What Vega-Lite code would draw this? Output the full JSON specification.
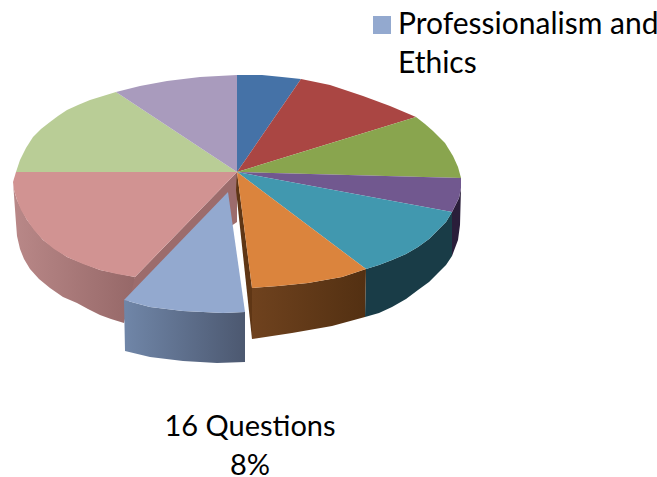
{
  "$schema": "https://vega.github.io/schema/vega-lite/v6.json",
  "width": 657,
  "height": 477,
  "padding": 0,
  "autosize": {"type": "none"},
  "background": "#ffffff",
  "config": {"view": {"stroke": null}},
  "datasets": {
    "outline": [
      {"s":"Topic 1","part":"top","i":0,"x":237,"y":172},{"s":"Topic 1","part":"top","i":1,"x":237,"y":75},{"s":"Topic 1","part":"top","i":2,"x":262,"y":75},{"s":"Topic 1","part":"top","i":3,"x":282,"y":77},{"s":"Topic 1","part":"top","i":4,"x":301,"y":79},
      {"s":"Topic 2","part":"top","i":0,"x":237,"y":172},{"s":"Topic 2","part":"top","i":1,"x":301,"y":79},{"s":"Topic 2","part":"top","i":2,"x":330,"y":85},{"s":"Topic 2","part":"top","i":3,"x":363,"y":96},{"s":"Topic 2","part":"top","i":4,"x":390,"y":106},{"s":"Topic 2","part":"top","i":5,"x":416,"y":117},
      {"s":"Topic 3","part":"top","i":0,"x":237,"y":172},{"s":"Topic 3","part":"top","i":1,"x":416,"y":117},{"s":"Topic 3","part":"top","i":2,"x":425,"y":124},{"s":"Topic 3","part":"top","i":3,"x":433,"y":131},{"s":"Topic 3","part":"top","i":4,"x":445,"y":143},{"s":"Topic 3","part":"top","i":5,"x":453,"y":156},{"s":"Topic 3","part":"top","i":6,"x":458,"y":167},{"s":"Topic 3","part":"top","i":7,"x":461,"y":178},
      {"s":"Topic 4","part":"top","i":0,"x":237,"y":172},{"s":"Topic 4","part":"top","i":1,"x":461,"y":178},{"s":"Topic 4","part":"top","i":2,"x":461,"y":188},{"s":"Topic 4","part":"top","i":3,"x":459,"y":198},{"s":"Topic 4","part":"top","i":4,"x":452,"y":212},
      {"s":"Topic 5","part":"top","i":0,"x":237,"y":172},{"s":"Topic 5","part":"top","i":1,"x":452,"y":212},{"s":"Topic 5","part":"top","i":2,"x":446,"y":222},{"s":"Topic 5","part":"top","i":3,"x":438,"y":230},{"s":"Topic 5","part":"top","i":4,"x":429,"y":239},{"s":"Topic 5","part":"top","i":5,"x":418,"y":247},{"s":"Topic 5","part":"top","i":6,"x":406,"y":254},{"s":"Topic 5","part":"top","i":7,"x":392,"y":260},{"s":"Topic 5","part":"top","i":8,"x":379,"y":265},{"s":"Topic 5","part":"top","i":9,"x":366,"y":269},
      {"s":"Topic 6","part":"top","i":0,"x":237,"y":172},{"s":"Topic 6","part":"top","i":1,"x":366,"y":269},{"s":"Topic 6","part":"top","i":2,"x":342,"y":277},{"s":"Topic 6","part":"top","i":3,"x":308,"y":283},{"s":"Topic 6","part":"top","i":4,"x":278,"y":286},{"s":"Topic 6","part":"top","i":5,"x":252,"y":288},
      {"s":"Topic 8","part":"top","i":0,"x":237,"y":172},{"s":"Topic 8","part":"top","i":1,"x":135,"y":277},{"s":"Topic 8","part":"top","i":2,"x":117,"y":274},{"s":"Topic 8","part":"top","i":3,"x":100,"y":270},{"s":"Topic 8","part":"top","i":4,"x":83,"y":264},{"s":"Topic 8","part":"top","i":5,"x":67,"y":257},{"s":"Topic 8","part":"top","i":6,"x":54,"y":249},{"s":"Topic 8","part":"top","i":7,"x":43,"y":240},{"s":"Topic 8","part":"top","i":8,"x":34,"y":230},{"s":"Topic 8","part":"top","i":9,"x":27,"y":220},{"s":"Topic 8","part":"top","i":10,"x":21,"y":210},{"s":"Topic 8","part":"top","i":11,"x":17,"y":200},{"s":"Topic 8","part":"top","i":12,"x":14,"y":190},{"s":"Topic 8","part":"top","i":13,"x":13,"y":182},{"s":"Topic 8","part":"top","i":14,"x":16,"y":172},
      {"s":"Topic 9","part":"top","i":0,"x":237,"y":172},{"s":"Topic 9","part":"top","i":1,"x":16,"y":172},{"s":"Topic 9","part":"top","i":2,"x":20,"y":160},{"s":"Topic 9","part":"top","i":3,"x":26,"y":148},{"s":"Topic 9","part":"top","i":4,"x":33,"y":137},{"s":"Topic 9","part":"top","i":5,"x":41,"y":129},{"s":"Topic 9","part":"top","i":6,"x":50,"y":122},{"s":"Topic 9","part":"top","i":7,"x":58,"y":116},{"s":"Topic 9","part":"top","i":8,"x":67,"y":110},{"s":"Topic 9","part":"top","i":9,"x":78,"y":105},{"s":"Topic 9","part":"top","i":10,"x":90,"y":100},{"s":"Topic 9","part":"top","i":11,"x":103,"y":96},{"s":"Topic 9","part":"top","i":12,"x":116,"y":92},
      {"s":"Topic 10","part":"top","i":0,"x":237,"y":172},{"s":"Topic 10","part":"top","i":1,"x":116,"y":92},{"s":"Topic 10","part":"top","i":2,"x":140,"y":86},{"s":"Topic 10","part":"top","i":3,"x":167,"y":81},{"s":"Topic 10","part":"top","i":4,"x":200,"y":77},{"s":"Topic 10","part":"top","i":5,"x":237,"y":75},

      {"s":"Professionalism and Ethics","part":"raised","i":0,"x":228,"y":192},{"s":"Professionalism and Ethics","part":"raised","i":1,"x":245,"y":312},{"s":"Professionalism and Ethics","part":"raised","i":2,"x":223,"y":313},{"s":"Professionalism and Ethics","part":"raised","i":3,"x":183,"y":311},{"s":"Professionalism and Ethics","part":"raised","i":4,"x":150,"y":307},{"s":"Professionalism and Ethics","part":"raised","i":5,"x":124,"y":300},

      {"s":"Topic 8","part":"pinkInner","i":0,"x":237,"y":172},{"s":"Topic 8","part":"pinkInner","i":1,"x":135,"y":277},{"s":"Topic 8","part":"pinkInner","i":2,"x":124,"y":300},{"s":"Topic 8","part":"pinkInner","i":3,"x":237,"y":222},

      {"s":"Topic 8","part":"pinkWall","i":0,"x":13,"y":182},{"s":"Topic 8","part":"pinkWall","i":1,"x":14,"y":190},{"s":"Topic 8","part":"pinkWall","i":2,"x":17,"y":200},{"s":"Topic 8","part":"pinkWall","i":3,"x":27,"y":220},{"s":"Topic 8","part":"pinkWall","i":4,"x":43,"y":240},{"s":"Topic 8","part":"pinkWall","i":5,"x":67,"y":257},{"s":"Topic 8","part":"pinkWall","i":6,"x":100,"y":270},{"s":"Topic 8","part":"pinkWall","i":7,"x":135,"y":277},{"s":"Topic 8","part":"pinkWall","i":8,"x":124,"y":323},{"s":"Topic 8","part":"pinkWall","i":9,"x":111,"y":319},{"s":"Topic 8","part":"pinkWall","i":10,"x":100,"y":315},{"s":"Topic 8","part":"pinkWall","i":11,"x":88,"y":309},{"s":"Topic 8","part":"pinkWall","i":12,"x":77,"y":303},{"s":"Topic 8","part":"pinkWall","i":13,"x":63,"y":297},{"s":"Topic 8","part":"pinkWall","i":14,"x":50,"y":288},{"s":"Topic 8","part":"pinkWall","i":15,"x":39,"y":279},{"s":"Topic 8","part":"pinkWall","i":16,"x":30,"y":269},{"s":"Topic 8","part":"pinkWall","i":17,"x":24,"y":259},{"s":"Topic 8","part":"pinkWall","i":18,"x":20,"y":249},{"s":"Topic 8","part":"pinkWall","i":19,"x":17,"y":236},{"s":"Topic 8","part":"pinkWall","i":20,"x":16,"y":223},

      {"s":"Topic 4","part":"purpleWall","i":0,"x":461,"y":188},{"s":"Topic 4","part":"purpleWall","i":1,"x":459,"y":198},{"s":"Topic 4","part":"purpleWall","i":2,"x":452,"y":212},{"s":"Topic 4","part":"purpleWall","i":3,"x":452,"y":256},{"s":"Topic 4","part":"purpleWall","i":4,"x":458,"y":240},{"s":"Topic 4","part":"purpleWall","i":5,"x":460,"y":225},

      {"s":"Topic 5","part":"tealWall","i":0,"x":452,"y":212},{"s":"Topic 5","part":"tealWall","i":1,"x":446,"y":222},{"s":"Topic 5","part":"tealWall","i":2,"x":438,"y":230},{"s":"Topic 5","part":"tealWall","i":3,"x":429,"y":239},{"s":"Topic 5","part":"tealWall","i":4,"x":418,"y":247},{"s":"Topic 5","part":"tealWall","i":5,"x":406,"y":254},{"s":"Topic 5","part":"tealWall","i":6,"x":392,"y":260},{"s":"Topic 5","part":"tealWall","i":7,"x":379,"y":265},{"s":"Topic 5","part":"tealWall","i":8,"x":366,"y":269},{"s":"Topic 5","part":"tealWall","i":9,"x":365,"y":317},{"s":"Topic 5","part":"tealWall","i":10,"x":379,"y":313},{"s":"Topic 5","part":"tealWall","i":11,"x":392,"y":307},{"s":"Topic 5","part":"tealWall","i":12,"x":406,"y":299},{"s":"Topic 5","part":"tealWall","i":13,"x":418,"y":290},{"s":"Topic 5","part":"tealWall","i":14,"x":429,"y":282},{"s":"Topic 5","part":"tealWall","i":15,"x":438,"y":273},{"s":"Topic 5","part":"tealWall","i":16,"x":446,"y":265},{"s":"Topic 5","part":"tealWall","i":17,"x":452,"y":256},

      {"s":"Topic 6","part":"orangeInner","i":0,"x":237,"y":172},{"s":"Topic 6","part":"orangeInner","i":1,"x":252,"y":288},{"s":"Topic 6","part":"orangeInner","i":2,"x":252,"y":339},{"s":"Topic 6","part":"orangeInner","i":3,"x":236,"y":190},

      {"s":"Topic 6","part":"orangeWall","i":0,"x":252,"y":288},{"s":"Topic 6","part":"orangeWall","i":1,"x":278,"y":286},{"s":"Topic 6","part":"orangeWall","i":2,"x":308,"y":283},{"s":"Topic 6","part":"orangeWall","i":3,"x":342,"y":277},{"s":"Topic 6","part":"orangeWall","i":4,"x":366,"y":269},{"s":"Topic 6","part":"orangeWall","i":5,"x":365,"y":317},{"s":"Topic 6","part":"orangeWall","i":6,"x":332,"y":326},{"s":"Topic 6","part":"orangeWall","i":7,"x":292,"y":333},{"s":"Topic 6","part":"orangeWall","i":8,"x":252,"y":339},

      {"s":"Professionalism and Ethics","part":"raisedWall","i":0,"x":124,"y":300},{"s":"Professionalism and Ethics","part":"raisedWall","i":1,"x":150,"y":307},{"s":"Professionalism and Ethics","part":"raisedWall","i":2,"x":183,"y":311},{"s":"Professionalism and Ethics","part":"raisedWall","i":3,"x":223,"y":313},{"s":"Professionalism and Ethics","part":"raisedWall","i":4,"x":245,"y":312},{"s":"Professionalism and Ethics","part":"raisedWall","i":5,"x":245,"y":362},{"s":"Professionalism and Ethics","part":"raisedWall","i":6,"x":217,"y":363},{"s":"Professionalism and Ethics","part":"raisedWall","i":7,"x":183,"y":361},{"s":"Professionalism and Ethics","part":"raisedWall","i":8,"x":150,"y":357},{"s":"Professionalism and Ethics","part":"raisedWall","i":9,"x":125,"y":351}
    ]
  },
  "encoding": {
    "x": {"field": "x", "type": "quantitative", "scale": {"domain": [0, 657]}, "axis": null},
    "y": {"field": "y", "type": "quantitative", "scale": {"domain": [477, 0]}, "axis": null},
    "order": {"field": "i", "type": "ordinal"}
  },
  "layer": [
    {
      "data": {"name": "outline"},
      "transform": [{"filter": "datum.part === 'pinkInner'"}],
      "mark": {"type": "line", "filled": true, "interpolate": "linear-closed", "fill": "#9c6c6c"}
    },
    {
      "data": {"name": "outline"},
      "transform": [{"filter": "datum.part === 'pinkWall'"}],
      "mark": {"type": "line", "filled": true, "interpolate": "linear-closed",
        "fill": {"gradient": "linear", "x1": 0, "x2": 1, "y1": 0, "y2": 0, "stops": [{"offset": 0, "color": "#b98888"}, {"offset": 1, "color": "#966868"}]}}
    },
    {
      "data": {"name": "outline"},
      "transform": [{"filter": "datum.part === 'purpleWall'"}],
      "mark": {"type": "line", "filled": true, "interpolate": "linear-closed", "fill": "#2a1e3a"}
    },
    {
      "data": {"name": "outline"},
      "transform": [{"filter": "datum.part === 'tealWall'"}],
      "mark": {"type": "line", "filled": true, "interpolate": "linear-closed", "fill": "#193c47"}
    },
    {
      "data": {"name": "outline"},
      "transform": [{"filter": "datum.part === 'orangeInner'"}],
      "mark": {"type": "line", "filled": true, "interpolate": "linear-closed", "fill": "#5f3615"}
    },
    {
      "data": {"name": "outline"},
      "transform": [{"filter": "datum.part === 'orangeWall'"}],
      "mark": {"type": "line", "filled": true, "interpolate": "linear-closed",
        "fill": {"gradient": "linear", "x1": 0, "x2": 1, "y1": 0, "y2": 0, "stops": [{"offset": 0, "color": "#6f421e"}, {"offset": 1, "color": "#533012"}]}}
    },
    {
      "data": {"name": "outline"},
      "transform": [{"filter": "datum.part === 'raisedWall'"}],
      "mark": {"type": "line", "filled": true, "interpolate": "linear-closed",
        "fill": {"gradient": "linear", "x1": 0, "x2": 1, "y1": 0, "y2": 0, "stops": [{"offset": 0, "color": "#7086a8"}, {"offset": 1, "color": "#4c5870"}]}}
    },
    {
      "data": {"name": "outline"},
      "transform": [{"filter": "datum.part === 'top' || datum.part === 'raised'"}],
      "mark": {"type": "line", "filled": true, "interpolate": "linear-closed"},
      "encoding": {
        "color": {
          "field": "s",
          "type": "nominal",
          "sort": null,
          "scale": {
            "domain": ["Topic 1", "Topic 2", "Topic 3", "Topic 4", "Topic 5", "Topic 6", "Professionalism and Ethics", "Topic 8", "Topic 9", "Topic 10"],
            "range": ["#4572a7", "#aa4643", "#89a54e", "#71588f", "#4198af", "#db843d", "#93a9cf", "#d19392", "#b9cd96", "#a99bbd"]
          },
          "legend": {
            "orient": "none",
            "legendX": 367,
            "legendY": 10,
            "title": null,
            "values": ["Professionalism and Ethics"],
            "symbolType": "square",
            "symbolSize": 324,
            "symbolStrokeWidth": 0,
            "labelFont": "Lato",
            "labelFontSize": 30,
            "labelColor": "#000000",
            "labelLimit": 400,
            "labelOffset": 1,
            "labelExpr": "split(replace(datum.label, 'and ', 'and|'), '|')",
            "encode": {"labels": {"update": {"lineHeight": {"value": 39}}}}
          }
        }
      }
    },
    {
      "data": {"values": [{"caption": "16 Questions|8%", "x": 250, "y": 436}]},
      "mark": {"type": "text", "font": "Lato", "fontSize": 29, "lineBreak": "|", "lineHeight": 39, "align": "center", "baseline": "alphabetic", "color": "#000000"},
      "encoding": {"text": {"field": "caption"}, "order": {"value": 0}}
    }
  ]
}
